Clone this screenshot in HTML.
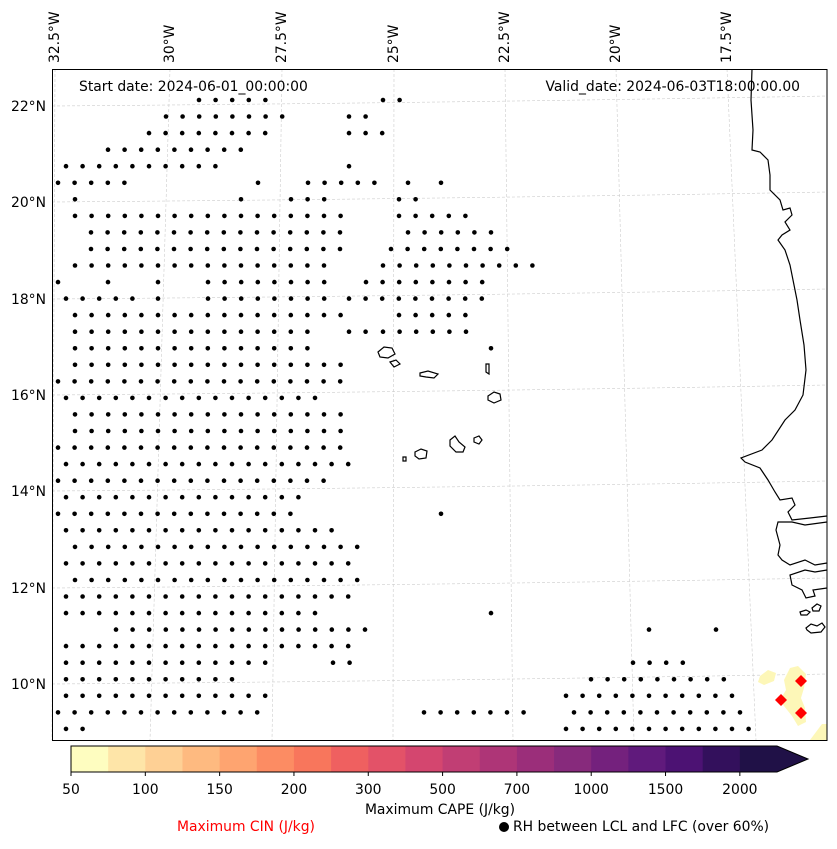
<!DOCTYPE html>
<html><head><meta charset="utf-8"><style>
body{margin:0;background:#fff;width:837px;height:845px;overflow:hidden;font-family:"DejaVu Sans","Liberation Sans",sans-serif}
svg text{font-family:"DejaVu Sans","Liberation Sans",sans-serif}
</style></head><body>
<svg id="chart" width="837" height="845" xmlns="http://www.w3.org/2000/svg">
<g id="grid"></g>
<g id="dots"></g>
<g fill="none" stroke="#000" stroke-width="1.2">
<path d="M752,69 L751,100 L753,130 L752,150 L760,152 L768,160 L770,175 L770,190 L780,200 L783,210 L790,208 L792,215 L785,222 L790,230 L782,235 L778,240 L785,250 L790,265 L793,280 L797,300 L800,320 L804,345 L806,370 L803,395 L795,410 L785,420 L772,440 L762,450 L741,458 L745,462 L760,468 L768,480 L775,492 L780,500 L792,498 L795,505 L788,512 L792,520 L810,518 L827,516"/>
<path d="M827,522 L805,525 L792,522 L778,522 L776,530 L780,545 L778,555 L782,560 L790,565 L805,560 L815,565 L827,563"/>
<path d="M827,570 L815,572 L805,570 L790,575 L792,585 L802,590 L806,598 L815,596 L813,590 L827,588"/>
<path d="M800,612 l6,-2 l4,2 l-3,3 l-6,0z M812,608 l5,-4 l4,2 l-2,5 l-6,0z M806,628 l5,-4 l6,2 l5,-3 l3,4 l-4,5 l-10,1 l-4,-3z"/>
<path d="M378,352 l6,-5 l8,1 l3,6 l-7,4 l-8,-1z M390,362 l6,-2 l4,4 l-6,3z M420,373 l8,-2 l10,3 l-4,4 l-8,-1 l-6,-1z M486,364 l3,0 l0,10 l-3,-2z M488,396 l6,-4 l6,2 l1,6 l-7,3 l-6,-3z M415,452 l6,-3 l6,2 l-1,7 l-7,1 l-4,-3z M450,440 l5,-4 l4,6 l6,5 l-2,5 l-7,0 l-6,-6z M474,438 l5,-2 l3,4 l-3,4 l-5,-2z M403,457 l3,0 l0,4 l-3,0z"/>
</g>
<g fill="#fdf7b8">
<path d="M760,676 l8,-6 l8,3 l-2,8 l-10,4 l-6,-3z"/>
<path d="M790,668 l8,-2 l8,8 l-2,14 l-3,10 l4,10 l1,14 l-8,4 l-6,-10 l-8,-10 l-4,-6 l6,-10 l-2,-10z"/>
<path d="M810,740 l12,-16 l5,0 l0,16z"/>
</g>
<g id="cin" fill="#ff0000"></g>
<rect x="52.5" y="69.5" width="774.5" height="671" fill="none" stroke="#000" stroke-width="1"/>
<text x="79" y="91" font-size="13.9">Start date: 2024-06-01_00:00:00</text>
<text x="800" y="91" font-size="13.9" text-anchor="end">Valid_date: 2024-06-03T18:00:00.00</text>
<g id="lonlabels" font-size="13.9"></g>
<g id="latlabels" font-size="13.9" text-anchor="end"></g>
<g id="cbar"></g>
<text x="440" y="814" font-size="13.9" text-anchor="middle">Maximum CAPE (J/kg)</text>
<text x="246" y="831" font-size="13.9" fill="#ff0000" text-anchor="middle">Maximum CIN (J/kg)</text>
<circle cx="504" cy="827" r="5" fill="#000"/>
<text x="513" y="831" font-size="13.9">RH between LCL and LFC (over 60%)</text>
</svg>
<script>
const NS="http://www.w3.org/2000/svg";
const lonLabels=["32.5°W","30°W","27.5°W","25°W","22.5°W","20°W","17.5°W"];
const latLabels=["22°N","20°N","18°N","16°N","14°N","12°N","10°N"];
const cbarTicks=["50","100","150","200","300","500","700","1000","1500","2000"];
const cbarLevels=[50,75,100,125,150,175,200,250,300,400,500,600,700,800,1000,1250,1500,1750,2000];
const cbarColors=["#fefdc0","#fee5a8","#fed095","#feba80","#fea470","#fc8c63","#f8765c","#ef6060","#e35268","#d4466f","#c13e74","#ae3577","#9b2e7a","#872a7c","#74217d","#601a7c","#4c1273","#33105c","#201147"];
const cinPoints=[[801,681],[781,700],[801,713]];
const hatchRows=[
[0,[[199,266],[383,399]]],[1,[[166,282],[349,366]]],[2,[[149,266],[349,382]]],[3,[[108,241]]],
[4,[[66,216],[349,349]]],[5,[[58,125],[258,258],[308,382],[408,408],[441,441]]],[6,[[75,75],[241,241],[291,324],[399,416]]],
[7,[[75,341],[399,474]]],[8,[[91,341],[408,491]]],[9,[[91,341],[391,508]]],[10,[[75,324],[383,533]]],
[11,[[58,58],[108,108],[158,158],[208,324],[366,482]]],[12,[[66,132],[158,158],[208,324],[349,491]]],
[13,[[75,349],[399,474]]],[14,[[75,316],[349,366],[383,466]]],[15,[[75,316],[491,491]]],[16,[[75,341]]],
[17,[[58,341]]],[18,[[66,324]]],[19,[[75,341]]],[20,[[75,349]]],[21,[[58,341]]],[22,[[66,349]]],
[23,[[58,324]]],[24,[[66,308]]],[25,[[58,291],[441,441]]],[26,[[66,341]]],[27,[[75,366]]],[28,[[66,358]]],
[29,[[75,358]]],[30,[[66,349]]],[31,[[66,316],[491,491]]],[32,[[116,366],[649,649],[716,716]]],[33,[[66,349]]],
[34,[[66,266],[333,349],[633,683]]],[35,[[66,233],[591,733]]],[36,[[66,266],[566,733]]],[37,[[58,266],[424,524],[574,749]]],[38,[[66,83],[566,749]]]
];
(function(){
const rowY=i=>100+i*16.55, step=16.6;
const grid=document.getElementById('grid');
const lonTop=[55,170,282,394,505,616,727], lonBot=[52,150,272,393,513,634,756];
lonTop.forEach((x,i)=>{const l=document.createElementNS(NS,'line');
l.setAttribute('x1',x);l.setAttribute('y1',69);l.setAttribute('x2',lonBot[i]);l.setAttribute('y2',740);
l.setAttribute('stroke','#ccc');l.setAttribute('stroke-width','0.6');l.setAttribute('stroke-dasharray','3,2');


grid.appendChild(l);
const t=document.createElementNS(NS,'text');t.textContent=lonLabels[i];
t.setAttribute('transform',`translate(${x+4},63) rotate(-90)`);


document.getElementById('lonlabels').appendChild(t);});
const latY=[106,202,299,395,491,588,684];
latY.forEach((y,i)=>{const p=document.createElementNS(NS,'path');
p.setAttribute('d',`M52,${y} Q440,${y-3} 827,${y-10}`);p.setAttribute('fill','none');
p.setAttribute('stroke','#ccc');p.setAttribute('stroke-width','0.6');p.setAttribute('stroke-dasharray','3,2');


grid.appendChild(p);
const t=document.createElementNS(NS,'text');t.textContent=latLabels[i];
t.setAttribute('x',46);t.setAttribute('y',y+5);


document.getElementById('latlabels').appendChild(t);});
const dots=document.getElementById('dots');
hatchRows.forEach(([r,segs])=>{segs.forEach(([a,b])=>{for(let x=a;x<=b+2;x+=step){
const c=document.createElementNS(NS,'circle');c.setAttribute('cx',x.toFixed(1));c.setAttribute('cy',rowY(r).toFixed(1));c.setAttribute('r','2.3');


dots.appendChild(c);}});});
const cin=document.getElementById('cin');
cinPoints.forEach(([x,y])=>{const p=document.createElementNS(NS,'path');
p.setAttribute('d',`M${x},${y-6} L${x+6},${y} L${x},${y+6} L${x-6},${y}Z`);


cin.appendChild(p);});
const cb=document.getElementById('cbar');const x0=71,x1=777,cw=(x1-x0)/cbarLevels.length,cbTop=746,h=26;
cbarColors.forEach((col,i)=>{const r=document.createElementNS(NS,'rect');
r.setAttribute('x',x0+i*cw);r.setAttribute('y',cbTop);r.setAttribute('width',cw+0.5);r.setAttribute('height',h);r.setAttribute('fill',col);


cb.appendChild(r);});
const tri=document.createElementNS(NS,'path');tri.setAttribute('d',`M${x1},${cbTop} L808,${cbTop+h/2} L${x1},${cbTop+h}Z`);tri.setAttribute('fill',cbarColors[cbarColors.length-1]);


cb.appendChild(tri);
const ol=document.createElementNS(NS,'path');ol.setAttribute('d',`M${x0},${cbTop} L${x1},${cbTop} L808,${cbTop+h/2} L${x1},${cbTop+h} L${x0},${cbTop+h}Z`);ol.setAttribute('fill','none');ol.setAttribute('stroke','#000');


cb.appendChild(ol);
cbarTicks.forEach((lab,i)=>{const x=x0+i*2*cw;const l=document.createElementNS(NS,'line');
l.setAttribute('x1',x);l.setAttribute('x2',x);l.setAttribute('y1',cbTop+h);l.setAttribute('y2',cbTop+h+4);l.setAttribute('stroke','#000');


cb.appendChild(l);
const t=document.createElementNS(NS,'text');t.textContent=lab;t.setAttribute('x',x);t.setAttribute('y',794);t.setAttribute('font-size','13.9');t.setAttribute('text-anchor','middle');


cb.appendChild(t);});
})();
</script>
</body></html>
